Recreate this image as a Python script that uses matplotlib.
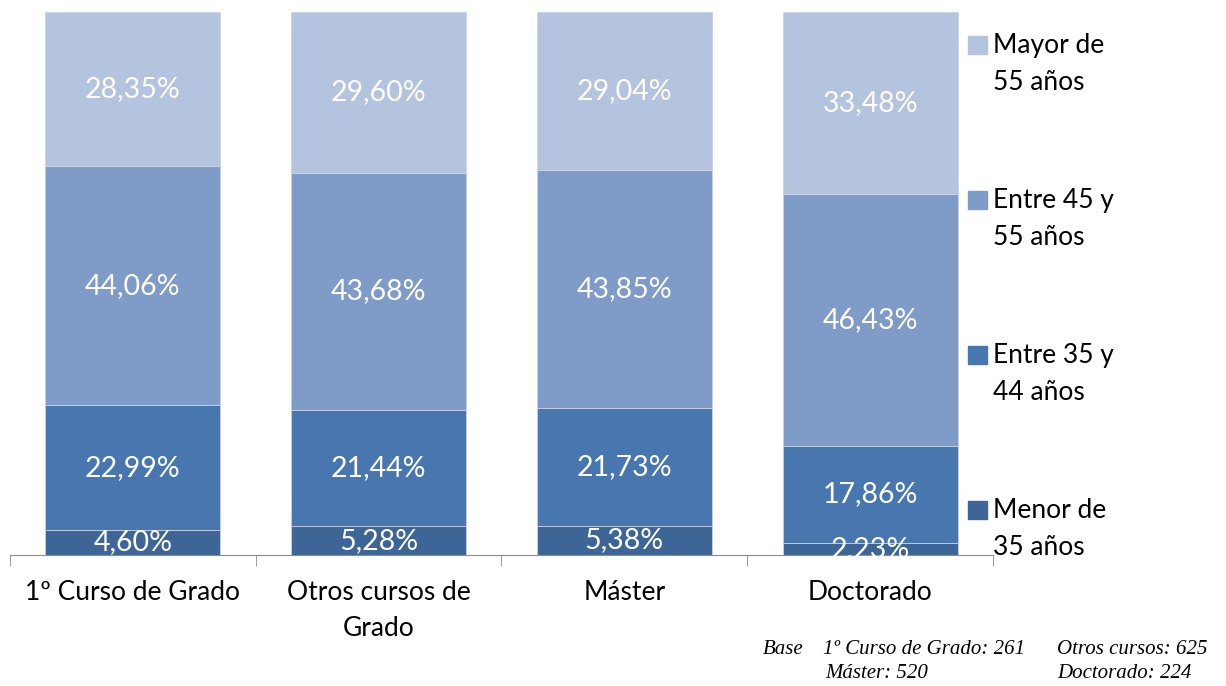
import numpy as np
import matplotlib
matplotlib.use("Agg")
import matplotlib.pyplot as plt
from matplotlib.patches import Rectangle

plt.rcParams["font.family"] = ["Lato", "DejaVu Sans"]

categories = ["1º Curso de Grado", "Otros cursos de\nGrado", "Máster", "Doctorado"]
series = ["Menor de\n35 años", "Entre 35 y\n44 años", "Entre 45 y\n55 años", "Mayor de\n55 años"]
menor_35 = [4.60, 5.28, 5.38, 2.23]
entre_35_44 = [22.99, 21.44, 21.73, 17.86]
entre_45_55 = [44.06, 43.68, 43.85, 46.43]
mayor_55 = [28.35, 29.60, 29.04, 33.48]
colors = ["#3d6595", "#4877b0", "#7f9bc7", "#b5c4de"]

W, H = 1226, 686
fig = plt.figure(figsize=(W / 100, H / 100), dpi=100)
ax = fig.add_axes([10 / W, (H - 555) / H, 983 / W, 543 / H])

x = np.arange(len(categories))
bottom = np.zeros(len(categories))
for vals, col in zip([menor_35, entre_35_44, entre_45_55, mayor_55], colors):
    vals = np.array(vals)
    ax.bar(x, vals, 0.712, bottom=bottom, color=col, edgecolor="#c8d3e6", linewidth=0.6)
    for xi, b, v in zip(x, bottom, vals):
        ax.text(xi, b + v / 2, f"{v:.2f}%".replace(".", ","), ha="center", va="center",
                color="white", fontsize=20.5)
    bottom += vals

ax.set_xlim(-0.5, 3.5)
ax.set_ylim(0, 100)
for s in ["top", "left", "right"]:
    ax.spines[s].set_visible(False)
ax.spines["bottom"].set_color("#8c8c8c")
ax.set_yticks([])
ax.set_xticks(x)
ax.set_xticklabels(categories, fontsize=19, linespacing=1.55)
ax.tick_params(axis="x", which="major", length=0, pad=18)
ax.set_xticks(np.arange(-0.5, 4, 1), minor=True)
ax.tick_params(axis="x", which="minor", length=8, color="#8c8c8c", direction="out")

# legend drawn at fixed positions
for i, (name, col) in enumerate(zip(series[::-1], colors[::-1])):
    ytop = 45 + i * 155
    fig.patches.append(Rectangle((968 / W, (H - ytop - 9) / H), 19 / W, 18 / H,
                                 transform=fig.transFigure, color=col))
    fig.text(993 / W, (H - ytop + 12) / H, name, fontsize=19, ha="left", va="top",
             linespacing=1.6)

note_kw = dict(fontsize=15, style="italic", family="Liberation Serif", va="center")
fig.text(763 / W, (H - 649) / H, "Base", **note_kw)
fig.text(823 / W, (H - 649) / H, "1º Curso de Grado: 261", **note_kw)
fig.text(1057 / W, (H - 649) / H, "Otros cursos: 625", **note_kw)
fig.text(825 / W, (H - 674) / H, "Máster: 520", **note_kw)
fig.text(1057 / W, (H - 674) / H, "Doctorado: 224", **note_kw)

fig.savefig("out.png", dpi=100)
